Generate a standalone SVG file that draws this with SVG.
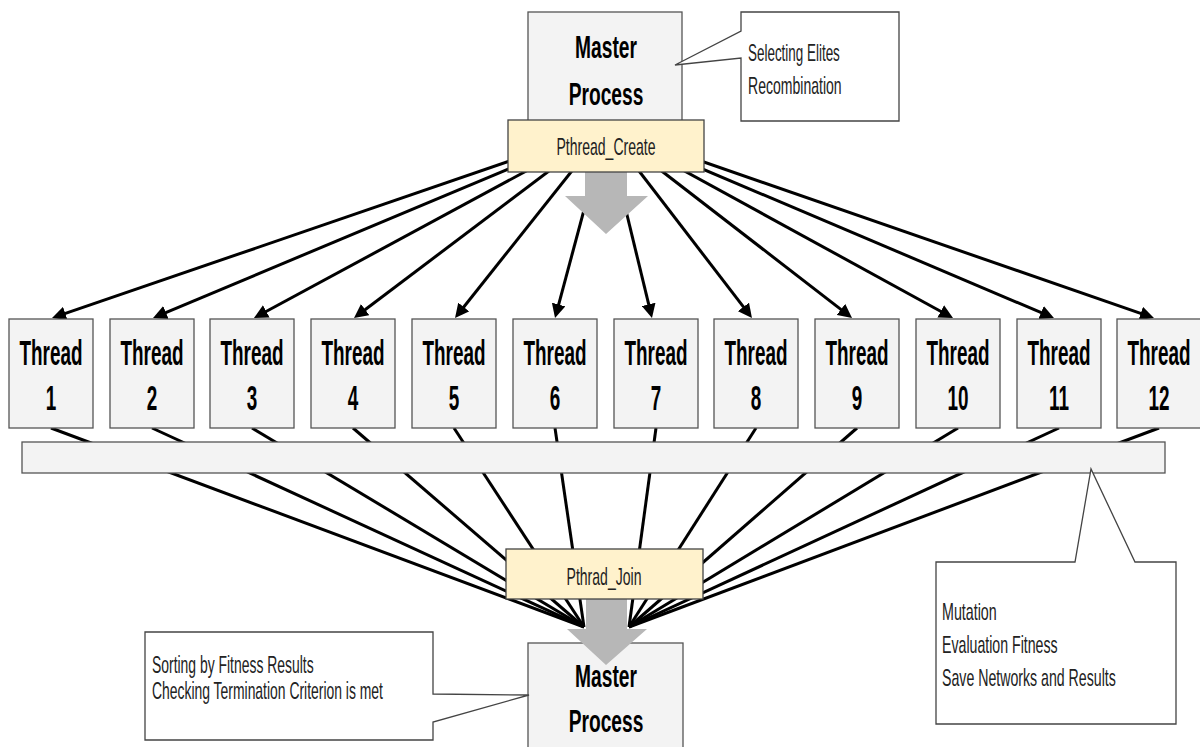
<svg xmlns="http://www.w3.org/2000/svg" width="1200" height="747" viewBox="0 0 1200 747">
  <style>
    .box { fill: #f3f3f3; stroke: #555; stroke-width: 1.3; }
    .yel { fill: #fff2cc; stroke: #444; stroke-width: 1.3; }
    .note { fill: #fff; stroke: #444; stroke-width: 1.3; }
    .big { fill: #b7b7b7; stroke: none; }
    .conn line { stroke: #000; stroke-width: 3; }
    .down { marker-end: url(#head); }
    .bold { font-family: "Liberation Sans", Arial, sans-serif; font-weight: bold; fill: #000; text-anchor: middle; }
    .th { font-size: 36px; }
    .mp { font-size: 32px; }
    .reg { font-family: "Liberation Sans", Arial, sans-serif; fill: #222; font-size: 24px; }
    .mid { text-anchor: middle; }
  </style>
  <defs>
    <marker id="head" viewBox="0 0 14 14" refX="6" refY="7" markerWidth="14" markerHeight="14" markerUnits="userSpaceOnUse" orient="auto">
      <path d="M0,0 L14,7 L0,14 Z" fill="#000"/>
    </marker>
  </defs>

  <rect width="1200" height="747" fill="#fff"/>

  <!-- connectors: create fan-out and join fan-in -->
  <g id="connectors" class="conn">
    <line class="down" x1="606" y1="128" x2="59.6" y2="315.4"/>
    <line class="down" x1="606" y1="128" x2="160.4" y2="314.9"/>
    <line class="down" x1="606" y1="128" x2="261.0" y2="314.2"/>
    <line class="down" x1="606" y1="128" x2="360.4" y2="313.2"/>
    <line class="down" x1="606" y1="128" x2="460.0" y2="311.7"/>
    <line class="down" x1="606" y1="128" x2="557.1" y2="310.3"/>
    <line class="down" x1="606" y1="128" x2="650.1" y2="310.2"/>
    <line class="down" x1="606" y1="128" x2="747.1" y2="311.7"/>
    <line class="down" x1="606" y1="128" x2="845.7" y2="313.1"/>
    <line class="down" x1="606" y1="128" x2="946.0" y2="314.2"/>
    <line class="down" x1="606" y1="128" x2="1046.6" y2="314.9"/>
    <line class="down" x1="606" y1="128" x2="1146.4" y2="315.4"/>

    <line x1="51" y1="428" x2="584" y2="627"/>
    <line x1="152" y1="428" x2="584" y2="627"/>
    <line x1="252" y1="428" x2="584" y2="627"/>
    <line x1="353" y1="428" x2="584" y2="627"/>
    <line x1="454" y1="428" x2="584" y2="627"/>
    <line x1="555" y1="428" x2="584" y2="627"/>
    <line x1="656" y1="428" x2="629" y2="627"/>
    <line x1="756" y1="428" x2="629" y2="627"/>
    <line x1="857" y1="428" x2="629" y2="627"/>
    <line x1="958" y1="428" x2="629" y2="627"/>
    <line x1="1059" y1="428" x2="629" y2="627"/>
    <line x1="1159" y1="428" x2="629" y2="627"/>
  </g>

  <!-- master process (top) -->
  <g id="master-top">
    <rect class="box" x="528" y="12" width="154" height="120"/>
    <text class="bold mp" transform="translate(606,58) scale(0.6,1)">Master</text>
    <text class="bold mp" transform="translate(606,105) scale(0.6,1)">Process</text>
  </g>

  <g id="note-top">
    <path class="note" d="M741,12 H899 V121 H741 V58 L675,65 L741,31 Z"/>
    <text class="reg" transform="translate(748,61) scale(0.56,1)">Selecting Elites</text>
    <text class="reg" transform="translate(748,94) scale(0.585,1)">Recombination</text>
  </g>

  <g id="big-arrow-top">
    <polygon class="big" points="585,172 627,172 627,196 648,196 606,234 565,196 585,196"/>
  </g>

  <g id="pthread-create">
    <rect class="yel" x="508" y="120" width="196" height="52"/>
    <text class="reg mid" transform="translate(606,155) scale(0.585,1)">Pthread_Create</text>
  </g>

  <!-- worker threads -->
  <g id="thread-1"><rect class="box" x="9" y="319" width="84" height="109"/><text class="bold th" transform="translate(51,365) scale(0.525,1)">Thread</text><text class="bold th" transform="translate(51,410) scale(0.525,1)">1</text></g>
  <g id="thread-2"><rect class="box" x="110" y="319" width="84" height="109"/><text class="bold th" transform="translate(152,365) scale(0.525,1)">Thread</text><text class="bold th" transform="translate(152,410) scale(0.525,1)">2</text></g>
  <g id="thread-3"><rect class="box" x="210" y="319" width="84" height="109"/><text class="bold th" transform="translate(252,365) scale(0.525,1)">Thread</text><text class="bold th" transform="translate(252,410) scale(0.525,1)">3</text></g>
  <g id="thread-4"><rect class="box" x="311" y="319" width="84" height="109"/><text class="bold th" transform="translate(353,365) scale(0.525,1)">Thread</text><text class="bold th" transform="translate(353,410) scale(0.525,1)">4</text></g>
  <g id="thread-5"><rect class="box" x="412" y="319" width="84" height="109"/><text class="bold th" transform="translate(454,365) scale(0.525,1)">Thread</text><text class="bold th" transform="translate(454,410) scale(0.525,1)">5</text></g>
  <g id="thread-6"><rect class="box" x="513" y="319" width="84" height="109"/><text class="bold th" transform="translate(555,365) scale(0.525,1)">Thread</text><text class="bold th" transform="translate(555,410) scale(0.525,1)">6</text></g>
  <g id="thread-7"><rect class="box" x="614" y="319" width="84" height="109"/><text class="bold th" transform="translate(656,365) scale(0.525,1)">Thread</text><text class="bold th" transform="translate(656,410) scale(0.525,1)">7</text></g>
  <g id="thread-8"><rect class="box" x="714" y="319" width="84" height="109"/><text class="bold th" transform="translate(756,365) scale(0.525,1)">Thread</text><text class="bold th" transform="translate(756,410) scale(0.525,1)">8</text></g>
  <g id="thread-9"><rect class="box" x="815" y="319" width="84" height="109"/><text class="bold th" transform="translate(857,365) scale(0.525,1)">Thread</text><text class="bold th" transform="translate(857,410) scale(0.525,1)">9</text></g>
  <g id="thread-10"><rect class="box" x="916" y="319" width="84" height="109"/><text class="bold th" transform="translate(958,365) scale(0.525,1)">Thread</text><text class="bold th" transform="translate(958,410) scale(0.525,1)">10</text></g>
  <g id="thread-11"><rect class="box" x="1017" y="319" width="84" height="109"/><text class="bold th" transform="translate(1059,365) scale(0.525,1)">Thread</text><text class="bold th" transform="translate(1059,410) scale(0.525,1)">11</text></g>
  <g id="thread-12"><rect class="box" x="1117" y="319" width="84" height="109"/><text class="bold th" transform="translate(1159,365) scale(0.525,1)">Thread</text><text class="bold th" transform="translate(1159,410) scale(0.525,1)">12</text></g>

  <g id="work-bar">
    <rect class="box" x="22" y="442" width="1143" height="31"/>
  </g>

  <g id="note-threads">
    <path class="note" d="M936,562 H1075 L1091,469 L1135,562 H1176 V724 H936 Z"/>
    <text class="reg" transform="translate(942,620) scale(0.595,1)">Mutation</text>
    <text class="reg" transform="translate(942,653) scale(0.59,1)">Evaluation Fitness</text>
    <text class="reg" transform="translate(942,686) scale(0.59,1)">Save Networks and Results</text>
  </g>

  <!-- master process (bottom) -->
  <g id="master-bottom">
    <rect class="box" x="528" y="643" width="155" height="112"/>
    <text class="bold mp" transform="translate(606,687) scale(0.6,1)">Master</text>
    <text class="bold mp" transform="translate(606,732) scale(0.6,1)">Process</text>
  </g>

  <g id="big-arrow-bottom">
    <polygon class="big" points="586,599 627,599 627,629 647,629 606,665 567,629 586,629"/>
  </g>

  <g id="pthread-join">
    <rect class="yel" x="506" y="549" width="197" height="50"/>
    <text class="reg mid" transform="translate(604,585) scale(0.585,1)">Pthrad_Join</text>
  </g>

  <g id="note-master">
    <path class="note" d="M145,632 H433 V694 L529,695 L433,722 V740 H145 Z"/>
    <text class="reg" transform="translate(152,673) scale(0.58,1)">Sorting by Fitness Results</text>
    <text class="reg" transform="translate(152,699) scale(0.58,1)">Checking Termination Criterion is met</text>
  </g>
</svg>
